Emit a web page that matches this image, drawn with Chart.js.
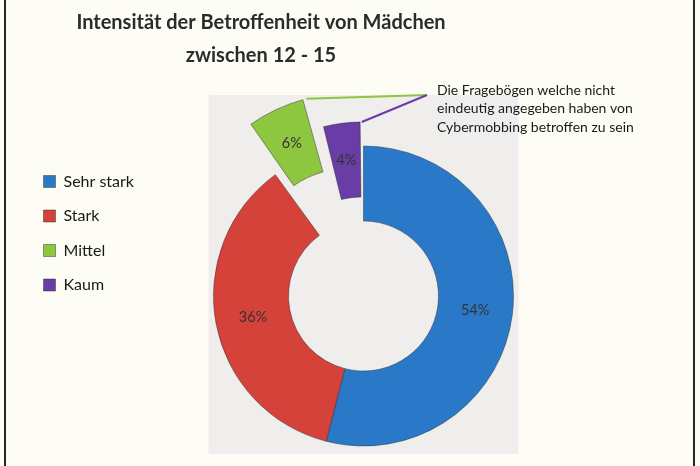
<!DOCTYPE html>
<html lang="de">
<head>
<meta charset="utf-8">
<title>Intensität der Betroffenheit von Mädchen</title>
<script src="https://cdn.jsdelivr.net/npm/chart.js@4.4.1/dist/chart.umd.min.js"></script>
<style>
  html, body { margin: 0; padding: 0; background: #fdfdf6; }
  #wrap { position: relative; width: 700px; height: 466px; }
  #frame {
    position: absolute; left: 4px; top: 0; width: 687px; height: 466px;
    border-left: 2px solid #262626; border-right: 2px solid #262626;
    pointer-events: none;
  }
</style>
</head>
<body>
<div id="wrap">
  <canvas id="chart" width="700" height="466"></canvas>
  <div id="frame"></div>
</div>
<script>
// data
const categories = ['Sehr stark', 'Stark', 'Mittel', 'Kaum'];
const shares = [54, 36, 6, 4];

const sliceColors = ['#2a79c9', '#d4423a', '#8dc63f', '#6a3da6'];
const sliceOffsets = [0, 0, 137, 55];   // Mittel and Kaum are pulled out
const titleLines = ['Intensität der Betroffenheit von Mädchen', 'zwischen 12 - 15'];
const noteLines = ['Die Fragebögen welche nicht', 'eindeutig angegeben haben von', 'Cybermobbing betroffen zu sein'];
const noteSlices = [2, 3];              // slices that get a leader line to the note

const fontFamily = 'Lato, "Open Sans", sans-serif';

// same shift Chart.js applies when it draws an arc with an offset
function arcGeometry(arc, offset) {
    const p = arc.getProps(['x', 'y', 'startAngle', 'endAngle', 'innerRadius', 'outerRadius', 'circumference']);
    const shift = (offset || 0) / 4;
    const grow = shift * (1 - Math.sin(Math.min(Math.PI, p.circumference)));
    const mid = (p.startAngle + p.endAngle) / 2;
    return {
        cx: p.x + Math.cos(mid) * shift,
        cy: p.y + Math.sin(mid) * shift,
        mid: mid,
        end: p.endAngle,
        inner: p.innerRadius + grow,
        outer: p.outerRadius + grow
    };
}

const scanPlugin = {
    id: 'scan',
    beforeDatasetsDraw(chart) {
        const ctx = chart.ctx;
        const first = chart.getDatasetMeta(0).data[0];
        ctx.save();
        // grey plot area behind the ring
        ctx.fillStyle = '#efeeec';
        ctx.fillRect(first.x - 155, first.y - 201, 310, 359);
        ctx.restore();
    },
    afterDatasetsDraw(chart) {
        const ctx = chart.ctx;
        const arcs = chart.getDatasetMeta(0).data;
        ctx.save();

        // percent labels
        ctx.font = '14.5px ' + fontFamily;
        ctx.fillStyle = '#333333';
        ctx.textAlign = 'center';
        ctx.textBaseline = 'middle';
        arcs.forEach((arc, i) => {
            const g = arcGeometry(arc, sliceOffsets[i]);
            const r = (g.inner + g.outer) / 2;
            ctx.fillText(shares[i] + '%', g.cx + Math.cos(g.mid) * r, g.cy + Math.sin(g.mid) * r);
        });

        // note text and leader lines
        const noteX = 437, noteY = 90, noteStep = 18.5;
        const anchorX = 427, anchorY = 95;
        noteSlices.forEach(i => {
            const g = arcGeometry(arcs[i], sliceOffsets[i]);
            ctx.strokeStyle = sliceColors[i];
            ctx.lineWidth = 2;
            ctx.beginPath();
            ctx.moveTo(g.cx + Math.cos(g.end) * g.outer, g.cy + Math.sin(g.end) * g.outer);
            ctx.lineTo(anchorX, anchorY);
            ctx.stroke();
        });
        ctx.font = '14px ' + fontFamily;
        ctx.fillStyle = '#1a1a1a';
        ctx.textAlign = 'left';
        noteLines.forEach((line, k) => ctx.fillText(line, noteX, noteY + k * noteStep));

        ctx.restore();
    },
    afterDraw(chart) {
        const ctx = chart.ctx;
        ctx.save();
        ctx.font = 'bold 20px ' + fontFamily;
        ctx.fillStyle = '#2b2b2b';
        ctx.textAlign = 'center';
        ctx.textBaseline = 'middle';
        titleLines.forEach((line, k) => ctx.fillText(line, 261, 23 + k * 33));
        ctx.restore();
    }
};

new Chart(document.getElementById('chart'), {
    type: 'doughnut',
    data: {
        labels: categories,
        datasets: [{
            data: shares,
            backgroundColor: sliceColors,
            borderColor: 'rgba(40, 40, 40, 0.45)',
            borderWidth: 1,
            offset: sliceOffsets,
            clip: false
        }]
    },
    options: {
        responsive: false,
        animation: false,
        events: [],
        radius: 150,
        cutout: '50%',
        layout: {
            padding: { top: 155, bottom: 29, left: 25, right: 117 }
        },
        plugins: {
            legend: {
                position: 'left',
                align: 'start',
                labels: {
                    boxWidth: 12,
                    boxHeight: 12,
                    padding: 18.5,
                    color: '#1a1a1a',
                    font: { family: fontFamily, size: 16 }
                }
            },
            title: { display: false },
            tooltip: { enabled: false }
        }
    },
    plugins: [scanPlugin]
});
</script>
</body>
</html>
